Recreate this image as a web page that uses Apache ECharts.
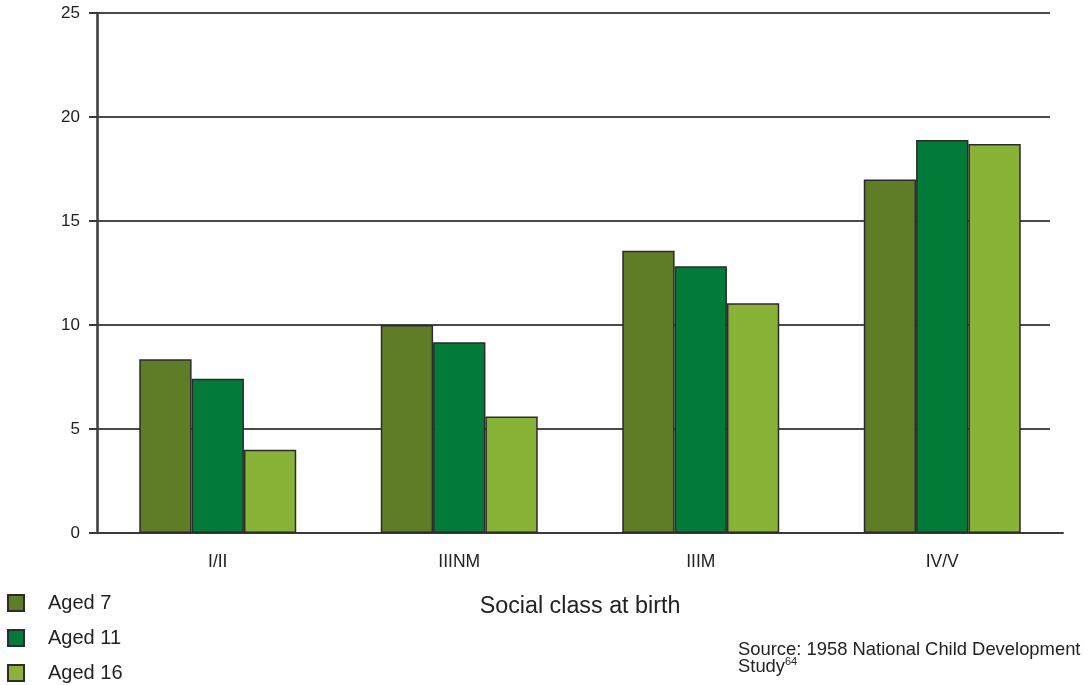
<!DOCTYPE html>
<html>
<head>
<meta charset="utf-8">
<script src="https://cdn.jsdelivr.net/npm/echarts@6/dist/echarts.min.js"></script>
<style>html,body{margin:0;padding:0;background:#fff;}#c{width:1090px;height:685px;}</style>
</head>
<body>
<div id="c"></div>
<script>
var categories = ['I/II', 'IIINM', 'IIIM', 'IV/V'];
var seriesNames = ['Aged 7', 'Aged 11', 'Aged 16'];
var aged7 = [8.35, 10.0, 13.57, 17.0];
var aged11 = [7.42, 9.17, 12.83, 18.9];
var aged16 = [4.0, 5.6, 11.04, 18.7];
var yTicks = [0, 5, 10, 15, 20, 25];

var colors = ['#5f7d26', '#027a38', '#88b336'];
var FONT = '"Liberation Sans", Arial, sans-serif';
var chart = echarts.init(document.getElementById('c'), null, {renderer: 'canvas'});

function bar(name, data, i) {
  return {
    name: name, type: 'bar', data: data,
    xAxisIndex: 1, yAxisIndex: 1,
    barGap: '0%', barCategoryGap: '35%',
    itemStyle: {color: colors[i], borderColor: '#2b2a2c', borderWidth: 1.5},
    z: 3
  };
}

chart.setOption({
  animation: false,
  textStyle: {fontFamily: FONT},
  grid: [
    {left: 97, right: 40, top: 13, bottom: 152},
    {left: 97, right: 27, top: 13, bottom: 152}
  ],
  xAxis: [
    {type: 'value', gridIndex: 0, show: false, min: 0, max: 1},
    {
      type: 'category', gridIndex: 1, data: categories,
      axisLine: {lineStyle: {color: '#3b383e', width: 2}},
      axisTick: {length: 17, lineStyle: {color: '#3b383e', width: 2}},
      axisLabel: {color: '#222', fontSize: 17.5, margin: 20, fontFamily: FONT},
      name: 'Social class at birth', nameLocation: 'middle', nameGap: 62,
      nameTextStyle: {color: '#222', fontSize: 23.3, fontFamily: FONT}
    }
  ],
  yAxis: [
    {
      type: 'value', gridIndex: 0, min: yTicks[0], max: yTicks[yTicks.length - 1], interval: 5,
      axisLine: {show: true, lineStyle: {color: '#3b383e', width: 2.5}},
      axisTick: {show: true, length: 8, lineStyle: {color: '#3b383e', width: 2}},
      axisLabel: {color: '#222', fontSize: 17, margin: 17, fontFamily: FONT},
      splitLine: {show: true, lineStyle: {color: '#4a474d', width: 2}}
    },
    {type: 'value', gridIndex: 1, show: false, min: 0, max: 25, interval: 5, splitLine: {show: false}}
  ],
  legend: {
    orient: 'vertical', left: 7, top: 593, padding: 0, height: 92,
    data: seriesNames,
    icon: 'rect', itemWidth: 16, itemHeight: 16, itemGap: 15,
    textStyle: {color: '#222', fontSize: 20, lineHeight: 20, fontFamily: FONT, padding: [0, 0, 0, 19]}
  },
  graphic: [
    {type: 'text', left: 738, top: 641, style: {text: 'Source: 1958 National Child Development', fill: '#222', font: '18.4px "Liberation Sans", Arial, sans-serif'}},
    {type: 'text', left: 738, top: 658, style: {text: 'Study', fill: '#222', font: '18.4px "Liberation Sans", Arial, sans-serif'}},
    {type: 'text', left: 785, top: 656, style: {text: '64', fill: '#222', font: '11px "Liberation Sans", Arial, sans-serif'}}
  ],
  series: [
    bar(seriesNames[0], aged7, 0),
    bar(seriesNames[1], aged11, 1),
    bar(seriesNames[2], aged16, 2)
  ]
});
</script>
</body>
</html>
